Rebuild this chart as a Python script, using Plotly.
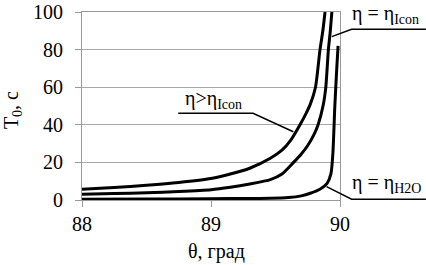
import plotly.graph_objects as go

# Data
theta_a = [88.0, 88.25, 88.5, 88.75, 89.0, 89.15, 89.3, 89.46, 89.55, 89.62, 89.69, 89.74, 89.77, 89.81, 89.845, 89.867, 89.884]
t_a     = [5.7, 6.6, 7.8, 9.3, 11.4, 13.8, 16.9, 22.2, 26.5, 32.0, 40.0, 46.5, 51.0, 60.0, 80.0, 90.0, 100.0]

theta_b = [88.0, 88.25, 88.5, 88.75, 89.0, 89.15, 89.3, 89.46, 89.55, 89.64, 89.7, 89.75, 89.8, 89.83, 89.87, 89.89, 89.91, 89.925, 89.937]
t_b     = [3.0, 3.4, 3.8, 4.5, 5.5, 6.8, 8.5, 10.8, 13.8, 20.0, 24.5, 29.0, 35.0, 40.0, 50.5, 60.0, 80.0, 90.0, 100.0]

theta_c = [88.0, 88.5, 89.0, 89.3, 89.46, 89.6, 89.7, 89.77, 89.85, 89.9, 89.93, 89.945, 89.96, 89.975, 89.985]
t_c     = [0.4, 0.5, 0.7, 0.8, 0.9, 1.3, 2.2, 3.6, 6.0, 8.9, 14.0, 25.0, 50.0, 70.0, 82.0]

x_ticks = [88, 89, 90]
y_ticks = [0, 20, 40, 60, 80, 100]

FONT = "Liberation Serif"

fig = go.Figure()
for xs, ys in [(theta_a, t_a), (theta_b, t_b), (theta_c, t_c)]:
    fig.add_trace(go.Scatter(x=xs, y=ys, mode="lines",
                             line=dict(color="black", width=3, shape="spline", smoothing=0.6),
                             showlegend=False, hoverinfo="skip"))

fig.update_layout(
    width=426, height=265,
    margin=dict(l=82, r=86, t=12, b=65),
    paper_bgcolor="white", plot_bgcolor="white",
    font=dict(family=FONT, size=20, color="black"),
    xaxis=dict(range=[88, 90], tickvals=x_ticks, ticktext=[str(v) for v in x_ticks],
               showgrid=False, showline=True, linecolor="#999999", linewidth=1, mirror=True,
               ticks="outside", ticklen=6, tickcolor="#999999", zeroline=False, automargin=False,
               tickfont=dict(family=FONT, size=20)),
    yaxis=dict(range=[0, 100], tickvals=y_ticks, showgrid=True, gridcolor="#a8a8a8", gridwidth=1,
               showline=True, linecolor="#999999", linewidth=1, mirror=True,
               ticks="outside", ticklen=6, tickcolor="#999999", zeroline=False, automargin=False,
               ticklabelstandoff=8,
               tickfont=dict(family=FONT, size=20)),
)

# white patch that breaks the 60 gridline behind the middle label
fig.add_shape(type="rect", xref="paper", yref="y", x0=0.391, x1=0.682, y0=57.5, y1=62.5,
              fillcolor="white", line=dict(width=0), layer="between")

# Leader lines (paper coordinates)
leaders = [
    [(0.968, 0.869), (1.045, 0.908), (1.333, 0.908)],
    [(0.373, 0.461), (0.663, 0.461), (0.819, 0.363)],
    [(0.948, 0.071), (1.045, 0.004), (1.333, 0.004)],
]
for pts in leaders:
    path = "M " + " L ".join(f"{x},{y}" for x, y in pts)
    fig.add_shape(type="path", path=path, xref="paper", yref="paper",
                  line=dict(color="black", width=1.5), layer="above")

ann_font = dict(family=FONT, size=20, color="black")
fig.add_annotation(text="η = η<sub>Icon</sub>", xref="paper", yref="paper",
                   x=1.04, y=0.985, xanchor="left", yanchor="middle",
                   showarrow=False, font=ann_font)
fig.add_annotation(text="η>η<sub>Icon</sub>", xref="paper", yref="paper",
                   x=0.51, y=0.535, xanchor="center", yanchor="middle",
                   showarrow=False, font=ann_font)
fig.add_annotation(text="η = η<sub>H2O</sub>", xref="paper", yref="paper",
                   x=1.04, y=0.09, xanchor="left", yanchor="middle",
                   showarrow=False, font=ann_font)

# Axis titles
fig.add_annotation(text="T<sub>0</sub>, с", xref="paper", yref="paper",
                   x=-0.27, y=0.48, xanchor="center", yanchor="middle", textangle=-90,
                   showarrow=False, font=dict(family=FONT, size=20, color="black"))
fig.add_annotation(text="θ, град", xref="paper", yref="paper",
                   x=0.52, y=-0.275, xanchor="center", yanchor="middle",
                   showarrow=False, font=dict(family=FONT, size=20, color="black"))

fig.write_html("out.html", config={"displayModeBar": False},
               post_script="document.body.style.margin='0';")
